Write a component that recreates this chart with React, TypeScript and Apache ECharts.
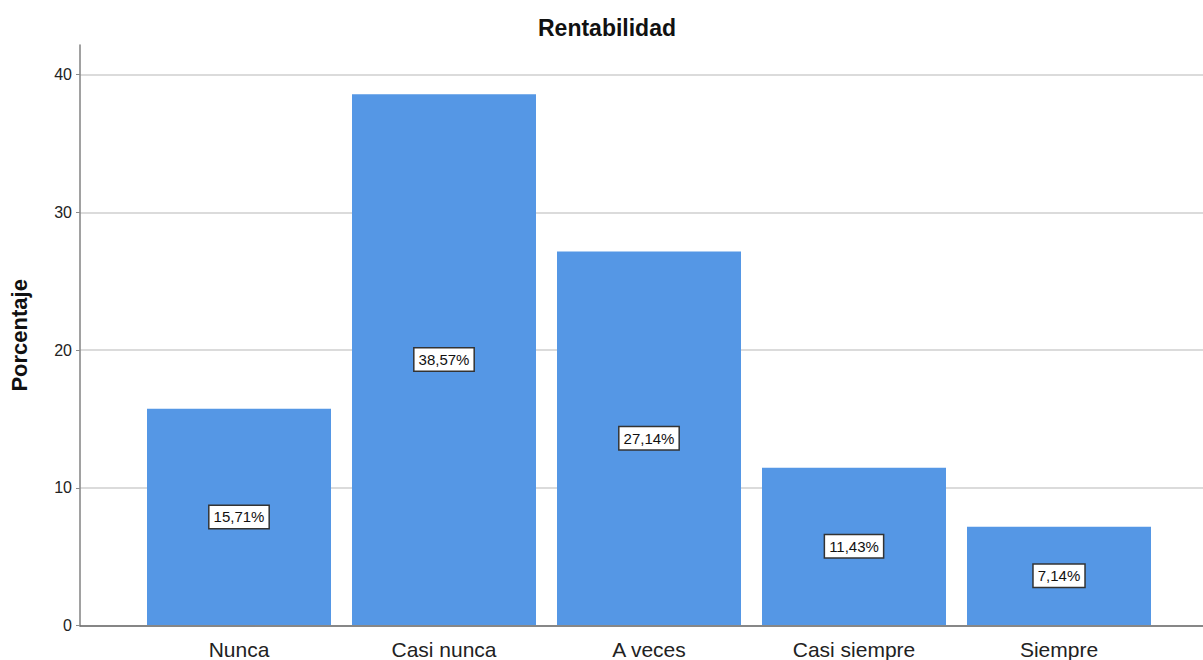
import React, { useEffect, useRef } from "react";
import * as echarts from "echarts";

const categories = ["Nunca", "Casi nunca", "A veces", "Casi siempre", "Siempre"];
const percentages = [15.71, 38.57, 27.14, 11.43, 7.14];
const yTickMax = 40;
const yTickInterval = 10;
const axisTopValue = 42.14;
const chartTitle = "Rentabilidad";
const yAxisTitle = "Porcentaje";

const FONT = "'Liberation Sans', Arial, sans-serif";

export default function App() {
  const ref = useRef<HTMLDivElement>(null);
  useEffect(() => {
    if (!ref.current) return;
    const chart = echarts.init(ref.current, null, { renderer: "svg" });
    const bottom = 34.3;
    chart.setOption({
      animation: false,
      backgroundColor: "#ffffff",
      title: {
        text: chartTitle,
        left: 602,
        top: 11,
        textAlign: "center",
        textStyle: { fontFamily: FONT, fontSize: 23, fontWeight: "bold", color: "#111" },
      },
      grid: [
        { left: 80, right: 0, top: 45, bottom },
        { left: 80, right: 0, top: 74.5, bottom },
        { left: 136.5, right: 41.5, top: 74.5, bottom },
      ],
      xAxis: [
        {
          gridIndex: 0,
          type: "value",
          min: 0,
          max: 1,
          axisLine: { show: true, lineStyle: { color: "#6b6b6b", width: 1.6 } },
          axisTick: { show: false },
          axisLabel: { show: false },
          splitLine: { show: false },
        },
        {
          gridIndex: 1,
          type: "value",
          min: 0,
          max: 1,
          show: false,
        },
        {
          gridIndex: 2,
          type: "category",
          data: categories,
          axisLine: { show: false },
          axisTick: { show: false },
          axisLabel: { margin: 14, fontFamily: FONT, fontSize: 21, color: "#222" },
        },
      ],
      yAxis: [
        {
          gridIndex: 0,
          type: "value",
          min: 0,
          max: axisTopValue,
          axisLine: { show: true, lineStyle: { color: "#8a8a8a", width: 1.6 } },
          axisTick: { show: false },
          axisLabel: { show: false },
          splitLine: { show: false },
          name: yAxisTitle,
          nameLocation: "middle",
          nameRotate: 90,
          nameGap: 50,
          nameTextStyle: { fontFamily: FONT, fontSize: 22, fontWeight: "bold", color: "#111" },
        },
        {
          gridIndex: 1,
          type: "value",
          min: 0,
          max: yTickMax,
          interval: yTickInterval,
          axisLine: { show: false },
          axisTick: { show: true, length: 4, lineStyle: { color: "#8a8a8a", width: 1 } },
          axisLabel: { margin: 8, fontFamily: FONT, fontSize: 16, color: "#222" },
          splitLine: { show: true, lineStyle: { color: "#cfcfcf", width: 1.5 } },
        },
        {
          gridIndex: 2,
          type: "value",
          min: 0,
          max: yTickMax,
          interval: yTickInterval,
          show: false,
          splitLine: { show: false },
        },
      ],
      series: [
        {
          type: "bar",
          xAxisIndex: 2,
          yAxisIndex: 2,
          data: percentages,
          barWidth: 184,
          itemStyle: { color: "#5597e5" },
          label: {
            show: true,
            position: "inside",
            formatter: (p: any) => p.value.toFixed(2).replace(".", ",") + "%",
            fontFamily: FONT,
            fontSize: 15,
            color: "#111",
            backgroundColor: "#ffffff",
            borderColor: "#333",
            borderWidth: 1.5,
            padding: [4, 4, 3, 4],
          },
        },
      ],
    });
    return () => chart.dispose();
  }, []);
  return (
    <div
      ref={ref}
      style={{ position: "fixed", left: 0, top: 0, width: 1203, height: 660 }}
    />
  );
}
